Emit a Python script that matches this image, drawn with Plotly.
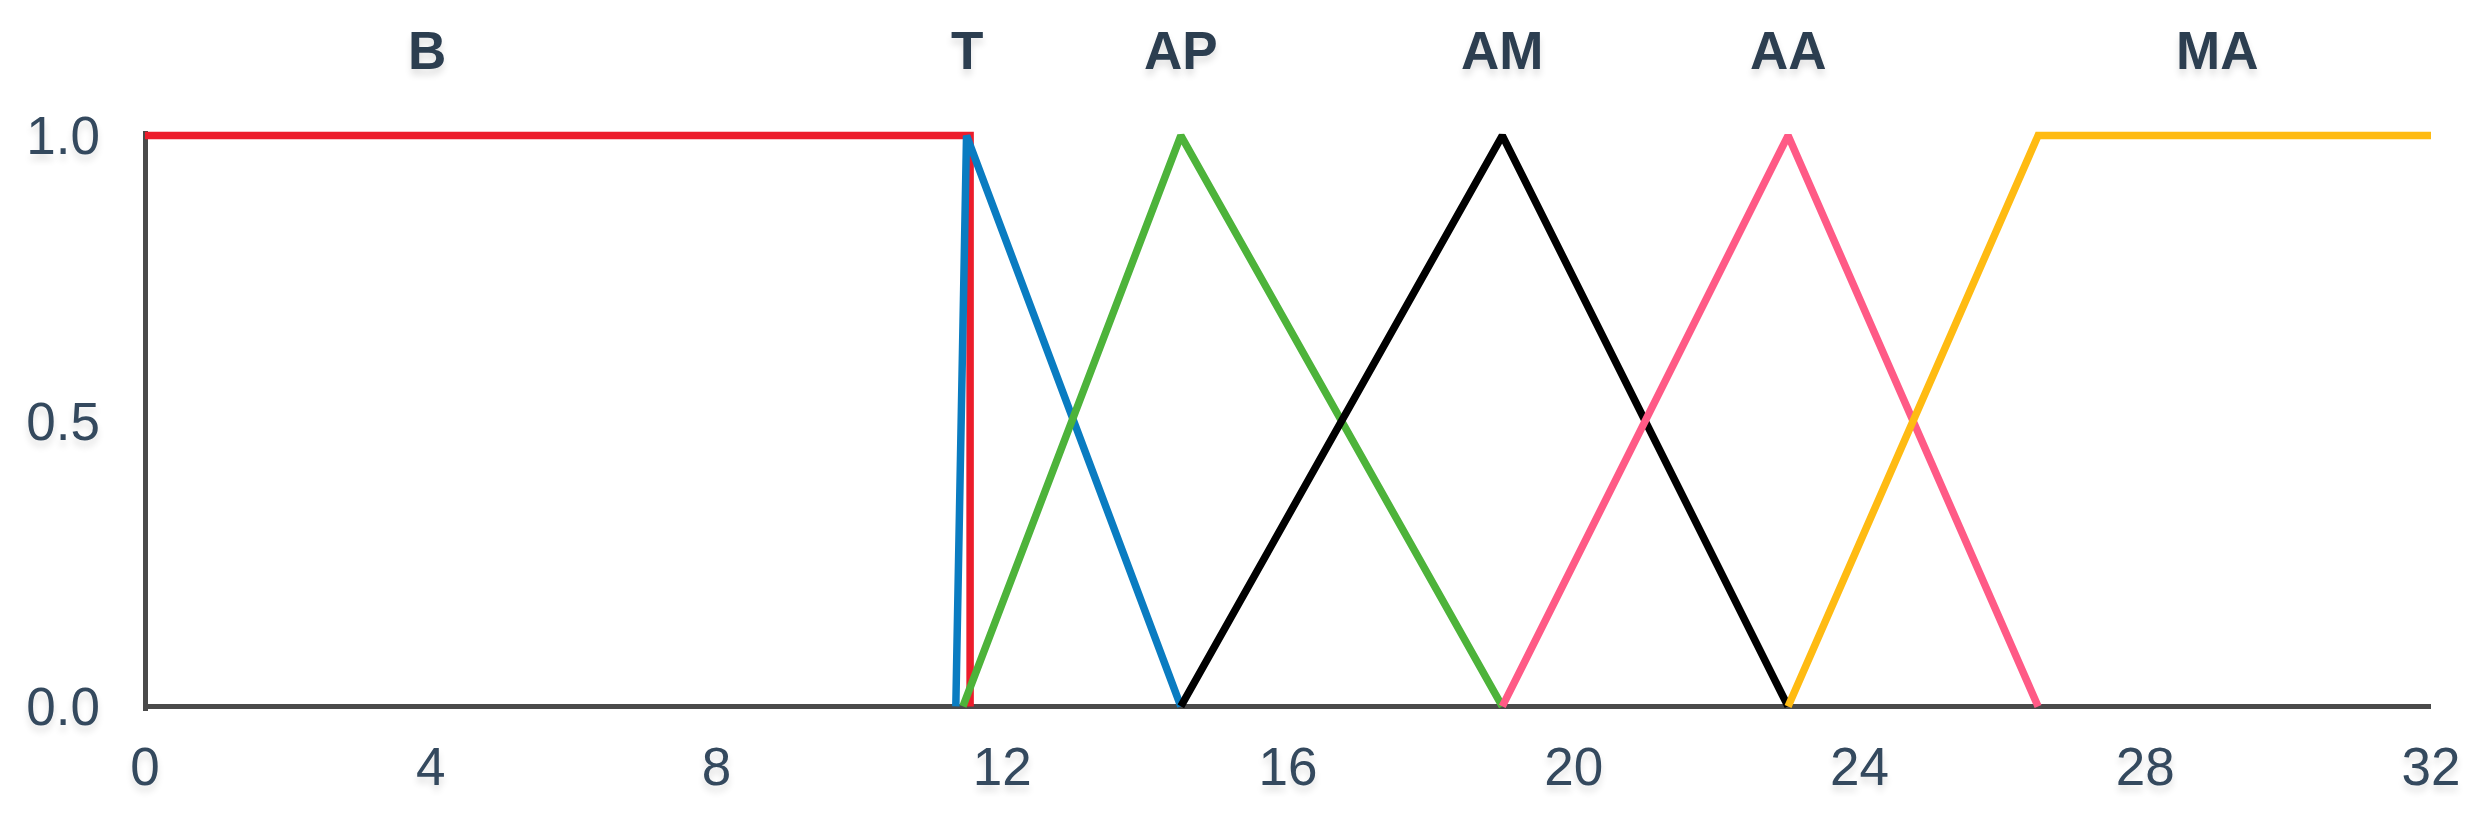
import plotly.graph_objects as go

# Membership functions (x breakpoints and membership values)
labels = ["B", "T", "AP", "AM", "AA", "MA"]
b_x = [0, 11.55, 11.55]
b_y = [1, 1, 0]
t_x = [11.35, 11.5, 14.5]
t_y = [0, 1, 0]
ap_x = [11.45, 14.5, 19]
ap_y = [0, 1, 0]
am_x = [14.5, 19, 23]
am_y = [0, 1, 0]
aa_x = [19, 23, 26.5]
aa_y = [0, 1, 0]
ma_x = [23, 26.5, 32]
ma_y = [0, 1, 1]
label_x = [3.95, 11.5, 14.5, 19, 23, 29]
x_ticks = [0, 4, 8, 12, 16, 20, 24, 28, 32]
y_ticks = [0.0, 0.5, 1.0]

colors = ["#ec1c2b", "#0a7cc1", "#4db33a", "#000000", "#ff5a86", "#ffbb12"]
series = [(b_x, b_y), (t_x, t_y), (ap_x, ap_y), (am_x, am_y), (aa_x, aa_y), (ma_x, ma_y)]

fig = go.Figure()
for (xs, ys), name, c in zip(series, labels, colors):
    fig.add_trace(go.Scatter(x=xs, y=ys, mode="lines", name=name,
                             line=dict(color=c, width=7.5), showlegend=False))

W, Hpx = 2488, 813
pad = 0.008
yr = [-pad, 1 + pad]
unit = 570.0
top = 128 - pad * unit
plot_h = (1 + 2 * pad) * unit
shadow = "0px 6px 7px rgba(0,0,0,0.12)"
for lx, lab in zip(label_x, labels):
    fig.add_annotation(x=lx, xref="x", y=1 + (top - 43) / plot_h, yref="paper",
                       text=f"<b>{lab}</b>", showarrow=False, yanchor="middle",
                       font=dict(family="Liberation Sans, Arial, sans-serif", size=53,
                                 color="#2c3e50", shadow=shadow))

axis_col = "#4a4a4a"
fig.update_layout(
    width=W, height=Hpx,
    margin=dict(l=137, r=65, t=top, b=Hpx - top - plot_h, pad=0),
    plot_bgcolor="white", paper_bgcolor="white",
    font=dict(family="Liberation Sans, Arial, sans-serif", size=53, color="#34495e",
              shadow=shadow),
)
fig.update_xaxes(range=[0, 32], tickvals=x_ticks, ticktext=[str(v) for v in x_ticks],
                 showgrid=False, zeroline=True, zerolinecolor=axis_col, zerolinewidth=5,
                 showline=False, ticks="", ticklabelstandoff=20)
fig.update_yaxes(range=yr, tickvals=y_ticks, ticktext=[f"{v:.1f}" for v in y_ticks],
                 showgrid=False, zeroline=True, zerolinecolor=axis_col, zerolinewidth=5,
                 showline=False, ticks="", ticklabelstandoff=44)

fig.write_html("out.html")
